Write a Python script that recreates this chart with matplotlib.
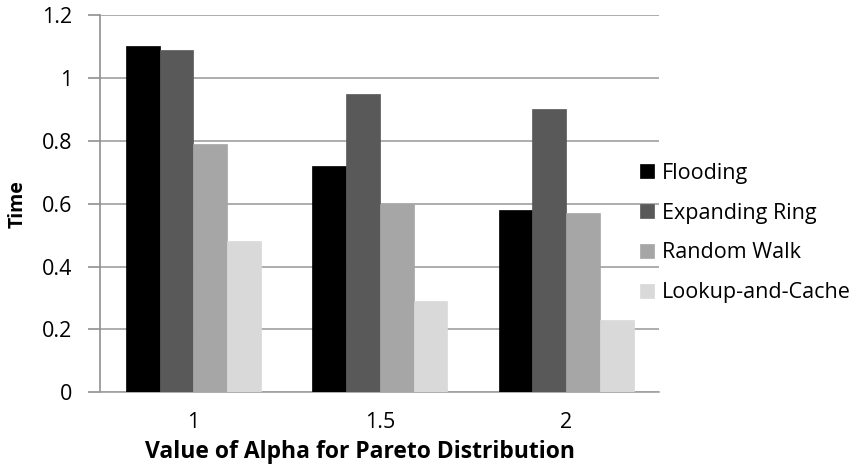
import matplotlib.pyplot as plt
import numpy as np

# Data
alphas = ["1", "1.5", "2"]
series = ["Flooding", "Expanding Ring", "Random Walk", "Lookup-and-Cache"]
flooding = [1.10, 0.72, 0.58]
expanding_ring = [1.09, 0.95, 0.90]
random_walk = [0.79, 0.60, 0.57]
lookup_cache = [0.48, 0.29, 0.23]

values = [flooding, expanding_ring, random_walk, lookup_cache]
colors = ["#000000", "#595959", "#a6a6a6", "#d9d9d9"]

plt.rcParams['font.family'] = ['Open Sans', 'DejaVu Sans']

fig = plt.figure(figsize=(8.58, 4.66), dpi=100)
ax = fig.add_axes([0.1166, 0.158, 0.652, 0.810])

x = np.arange(len(alphas))
width = 0.181
for i, (name, vals) in enumerate(zip(series, values)):
    offset = (i - 1.5) * width
    ax.bar(x + offset, vals, width, color=colors[i], label=name,
           edgecolor=colors[i], linewidth=0.5, zorder=3)

ax.set_xlim(-0.5, 2.5)
ax.set_ylim(0, 1.2)
ax.set_yticks([0, 0.2, 0.4, 0.6, 0.8, 1.0, 1.2])
ax.set_yticklabels(["0", "0.2", "0.4", "0.6", "0.8", "1", "1.2"])
ax.set_xticks(x)
ax.set_xticklabels(alphas)

ax.grid(axis='y', color='#a0a0a0', linewidth=1.2, zorder=0)
for s in ['top', 'right']:
    ax.spines[s].set_visible(False)
ax.spines['left'].set_color('#909090')
ax.spines['bottom'].set_color('#a0a0a0')
ax.spines['left'].set_linewidth(1.2)
ax.spines['bottom'].set_linewidth(1.2)
ax.tick_params(axis='y', length=9, color='#909090', width=1.2, labelsize=15.5, pad=11)
ax.tick_params(axis='x', length=0, labelsize=15.5, pad=14)

ax.set_ylabel("Time", fontsize=14, fontweight='bold', labelpad=10)
ax.set_xlabel("Value of Alpha for Pareto Distribution", fontsize=16.5,
              fontweight='bold')
# the title under the axis sits a bit left of the plot centre
ax.xaxis.set_label_coords(0.464, -0.157)
ax.xaxis.label.set_va('center')

fig.legend(loc='center left', bbox_to_anchor=(0.746, 0.500), frameon=False,
           fontsize=15.5, handlelength=0.65, handleheight=0.6, handletextpad=0.35,
           labelspacing=0.88, borderpad=0, borderaxespad=0)

fig.savefig("out.png", dpi=100)
